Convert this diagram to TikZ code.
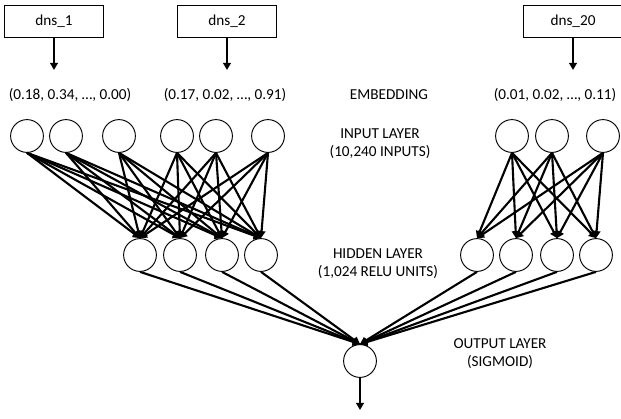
\documentclass[tikz,border=0pt]{standalone}
\usepackage{fontspec}
\setmainfont{Carlito}
\usetikzlibrary{arrows.meta}

\tikzset{
  neuron/.style={draw,circle,minimum size=28pt,inner sep=0pt,line width=0.8pt},
  dnsbox/.style={draw,minimum width=85pt,minimum height=28pt,line width=0.8pt,font=\fontsize{13}{15.5}\selectfont},
  link/.style={line width=1.8pt,-{Triangle[length=6pt,width=6.5pt]}},
  lbl/.style={font=\fontsize{13}{15.5}\selectfont,align=center}
}

\begin{document}
\begin{tikzpicture}[x=0.03cm,y=-0.03cm]
\useasboundingbox (0,0) rectangle (621,418);
% domain boxes
\node[dnsbox] (dns1) at (54,21.5) {dns\_1};
\node[dnsbox] (dns2) at (227,21.5) {dns\_2};
\node[dnsbox] (dns20) at (573,21.5) {dns\_20};
\coordinate (e1) at (54,70);
\coordinate (e2) at (227,70);
\coordinate (e20) at (573,70);
\draw[link] (dns1.south) -- (e1);
\draw[link] (dns2.south) -- (e2);
\draw[link] (dns20.south) -- (e20);
% embeddings
\node[lbl] (emb1) at (70,95) {(0.18, 0.34, \dots, 0.00)};
\node[lbl] (emb2) at (225,95) {(0.17, 0.02, \dots, 0.91)};
\node[lbl] (emb20) at (555,95) {(0.01, 0.02, \dots, 0.11)};
\node[lbl] (embtxt) at (389,95) {EMBEDDING};
% input layer
\node[neuron] (i1) at (27,136) {};
\node[neuron] (i2) at (66,136) {};
\node[neuron] (i3) at (119,136) {};
\node[neuron] (i4) at (177,136) {};
\node[neuron] (i5) at (216,136) {};
\node[neuron] (i6) at (268,136) {};
\node[neuron] (j1) at (512,136) {};
\node[neuron] (j2) at (552,136) {};
\node[neuron] (j3) at (603,136) {};
\node[lbl] (intxt) at (380,144) {INPUT LAYER\\(10,240 INPUTS)};
% hidden layer
\node[neuron] (h1) at (140,255) {};
\node[neuron] (h2) at (180,255) {};
\node[neuron] (h3) at (222,255) {};
\node[neuron] (h4) at (261,255) {};
\node[neuron] (g1) at (477,255) {};
\node[neuron] (g2) at (516,255) {};
\node[neuron] (g3) at (557,255) {};
\node[neuron] (g4) at (596,255) {};
\node[lbl] (hidtxt) at (378,264) {HIDDEN LAYER\\(1,024 RELU UNITS)};
% output layer
\node[neuron] (out) at (360,361) {};
\node[lbl] (outtxt) at (500,353.5) {OUTPUT LAYER\\(SIGMOID)};
\coordinate (res) at (360,410);
\draw[link] (out.south) -- (res);
% connections
\foreach \a in {i1,i2,i3,i4,i5,i6}
  \foreach \b in {h1,h2,h3,h4}
    \draw[link] (\a.south) -- (\b.north);
\foreach \a in {j1,j2,j3}
  \foreach \b in {g1,g2,g3,g4}
    \draw[link] (\a.south) -- (\b.north);
\foreach \b in {h1,h2,h3,h4,g1,g2,g3,g4}
  \draw[link] (\b.south) -- (out.north);
\end{tikzpicture}
\end{document}
